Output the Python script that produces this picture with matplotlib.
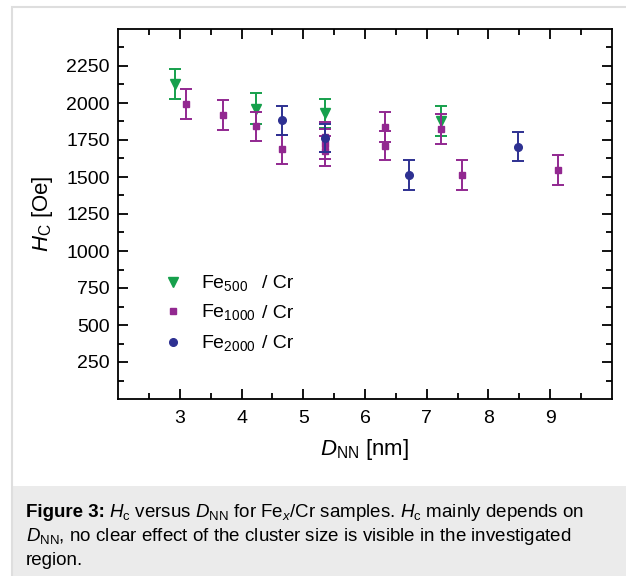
import matplotlib
matplotlib.use("Agg")
import matplotlib.pyplot as plt
from matplotlib.patches import Rectangle

plt.rcParams['font.family'] = ['Liberation Sans', 'DejaVu Sans']
plt.rcParams['mathtext.fontset'] = 'custom'
plt.rcParams['mathtext.rm'] = 'Liberation Sans'
plt.rcParams['mathtext.it'] = 'Liberation Sans:italic'
plt.rcParams['mathtext.bf'] = 'Liberation Sans:bold'

# ---------------- data ----------------
fe500_x = [2.92, 4.23, 5.35, 7.24]
fe500_y = [2130, 1962, 1930, 1880]
fe500_err = [100, 103, 100, 100]

fe1000_x = [3.10, 3.69, 4.23, 4.66, 5.35, 5.35, 5.35, 6.32, 6.32, 7.24, 7.58, 9.13]
fe1000_y = [1995, 1920, 1843, 1687, 1770, 1722, 1676, 1836, 1712, 1826, 1513, 1547]
fe1000_err = [100, 100, 98, 98, 100, 100, 100, 100, 100, 100, 100, 100]

fe2000_x = [4.66, 5.35, 6.72, 8.48]
fe2000_y = [1883, 1762, 1513, 1703]
fe2000_err = [97, 95, 100, 98]

x_ticks = [3, 4, 5, 6, 7, 8, 9]
y_ticks = [250, 500, 750, 1000, 1250, 1500, 1750, 2000, 2250]
series_names = ["500", "1000", "2000"]

c_green = '#16a04c'
c_purple = '#922890'
c_blue = '#2e3192'

W, H = 626, 576
fig = plt.figure(figsize=(W / 100, H / 100), dpi=100)
fig.patch.set_facecolor('white')

# outer frame and caption band
fig.patches.append(Rectangle((12 / W, 0), 1.0, (H - 486) / H, transform=fig.transFigure,
                             facecolor='#ebebeb', edgecolor='none', zorder=0))
fig.patches.append(Rectangle((12 / W, -0.05), 1.2, 1.05 - 7 / H, transform=fig.transFigure,
                             facecolor='none', edgecolor='#dedede', lw=1.5, zorder=1))

ax = fig.add_axes([118.3 / W, 1 - 399 / H, (611.7 - 118.3) / W, (399 - 29) / H])

ekw = dict(linestyle='none', elinewidth=1.4, capsize=4.5, capthick=1.4)
ax.errorbar(fe500_x, fe500_y, yerr=fe500_err, marker='v', ms=7.5, color=c_green, **ekw, zorder=3)
ax.errorbar(fe1000_x, fe1000_y, yerr=fe1000_err, marker='s', ms=5, color=c_purple, **ekw, zorder=4)
ax.errorbar(fe2000_x, fe2000_y, yerr=fe2000_err, marker='o', ms=5.5, color=c_blue, **ekw, zorder=5)

ax.set_xlim(2, 10)
ax.set_ylim(0, 2500)
ax.set_xticks(x_ticks)
ax.set_xticks([v + 0.5 for v in range(2, 10)], minor=True)
ax.set_yticks(y_ticks)
ax.set_yticks([125 + 250 * i for i in range(10)], minor=True)
for s in ax.spines.values():
    s.set_linewidth(1.3)
ax.tick_params(which='both', direction='in', top=True, right=True, width=1.3, labelsize=14)
ax.tick_params(which='major', length=7)
ax.tick_params(which='minor', length=4.5)
ax.tick_params(axis='x', pad=8)
ax.tick_params(axis='y', pad=6)

ax.set_ylabel(r"$H_\mathrm{C}$ [Oe]", fontsize=16, labelpad=8)
ax.set_xlabel(r"$D_\mathrm{NN}$ [nm]", fontsize=16, labelpad=7)

# legend (manual)
leg_markers = [('v', 7.5, c_green), ('s', 5, c_purple), ('o', 5.5, c_blue)]
leg_y_px = [281.7, 311.0, 341.7]
for (m, ms, c), name, ypx in zip(leg_markers, series_names, leg_y_px):
    yfrac = (399 - ypx) / 370
    ax.plot([(173 - 118.3) / 493.4], [yfrac], marker=m, ms=ms, color=c, ls='none',
            transform=ax.transAxes, clip_on=False)
    yb = (399 - ypx - 6.5) / 370
    ax.text((201 - 118.3) / 493.4, yb, r"Fe$_{%s}$" % name, transform=ax.transAxes,
            fontsize=14, va='baseline', ha='left')
    ax.text((262 - 118.3) / 493.4, yb, "/ Cr", transform=ax.transAxes,
            fontsize=14, va='baseline', ha='left')

# caption
cap_fs = 13.5
lines_y = [517, 541, 565]
fig.canvas.draw()
renderer = fig.canvas.get_renderer()
t1 = fig.text(26 / W, 1 - lines_y[0] / H, "Figure 3:", fontsize=cap_fs, weight='bold', va='baseline')
bb = t1.get_window_extent(renderer=renderer)
fig.text((bb.x1 + 4) / W, 1 - lines_y[0] / H,
         r"$H_\mathrm{c}$ versus $D_\mathrm{NN}$ for Fe$_{x}$/Cr samples. $H_\mathrm{c}$ mainly depends on",
         fontsize=cap_fs, va='baseline')
fig.text(26 / W, 1 - lines_y[1] / H,
         r"$D_\mathrm{NN}$, no clear effect of the cluster size is visible in the investigated",
         fontsize=cap_fs, va='baseline')
fig.text(26 / W, 1 - lines_y[2] / H, "region.", fontsize=cap_fs, va='baseline')

fig.savefig("out.png", dpi=100)
